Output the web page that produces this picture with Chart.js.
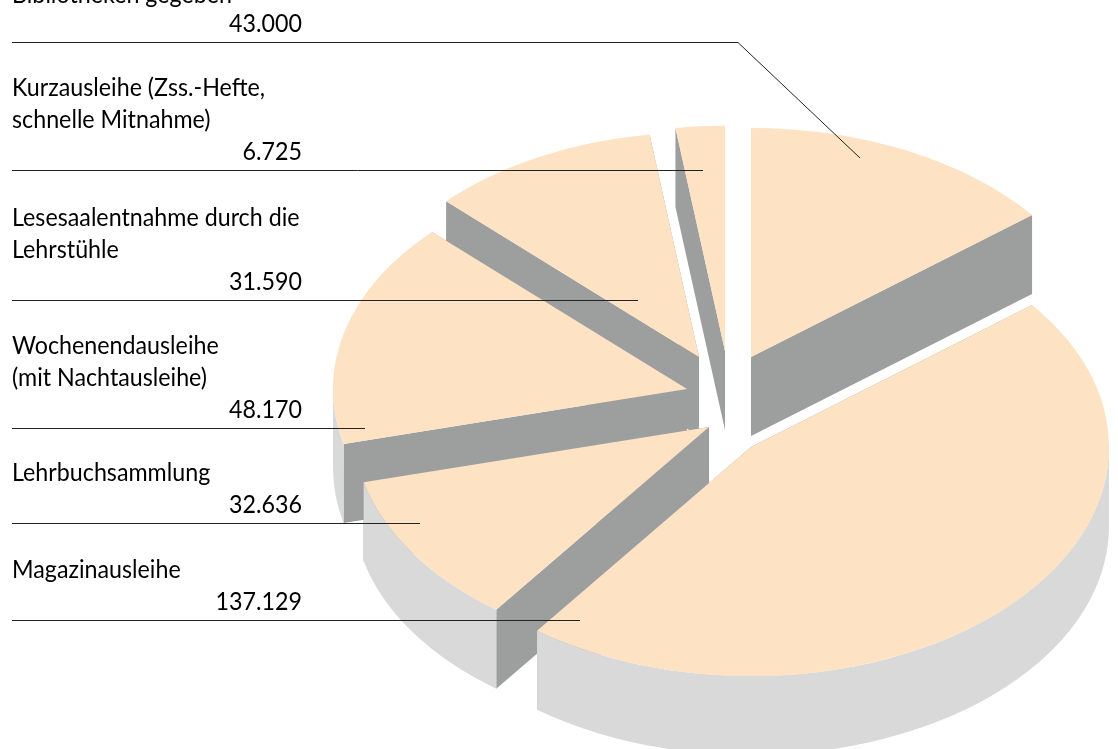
<!DOCTYPE html>
<html>
<head>
<meta charset="utf-8">
<style>
  html, body { margin: 0; background: #fff; overflow: hidden; }
  canvas { display: block; }
</style>
<script src="https://cdn.jsdelivr.net/npm/chart.js@4"></script>
</head>
<body>
<canvas id="pie" width="1118" height="749"></canvas>
<script>
// slices clockwise from 12 o'clock
const categories = ['Bibliotheken gegeben', 'Magazinausleihe', 'Lehrbuchsammlung', 'Wochenendausleihe (mit Nachtausleihe)', 'Lesesaalentnahme durch die Lehrstühle', 'Kurzausleihe (Zss.-Hefte, schnelle Mitnahme)'];
const values = [43000, 137129, 32636, 48170, 31590, 6725];
const labelLines = [
    ['Bibliotheken gegeben'],
    ['Magazinausleihe'],
    ['Lehrbuchsammlung'],
    ['Wochenendausleihe', '(mit Nachtausleihe)'],
    ['Lesesaalentnahme durch die', 'Lehrstühle'],
    ['Kurzausleihe (Zss.-Hefte,', 'schnelle Mitnahme)']
];

// Look of the fake 3D
const colors = { top: '#fde2c3', wall: '#9d9f9e', rim: '#d9d9d9', text: '#000', line: '#222' };
const squash = 0.64;
const depth = 79;
const pieRadius = 356;
const centerX = 725;
const centerY = 395;
// per slice explosion in screen px, away from the center
const explodeX = [26, 26, -16, -38, -26, 0];
const explodeY = [-38, 52, 32, -6, -38, -44];
const sliceRadius = [358, 358, 356, 354, 351, 352];
const backToFront = [5, 0, 4, 3, 2, 1];
// label block per slice: y of the leader line, x where it ends
const leaderY = [42, 620, 523, 428, 300, 170];
const leaderEnd = [738, 580, 420, 365, 638, 703];
const lineHeight = 32;
const textSqueeze = 0.93;

function drawDepth(ctx, arc) {
    const d = depth / squash;
    const r = arc.outerRadius;
    // cut faces
    ctx.fillStyle = colors.wall;
    [arc.startAngle, arc.endAngle].forEach(a => {
        const ox = arc.x + Math.cos(a) * r;
        const oy = arc.y + Math.sin(a) * r;
        ctx.beginPath();
        ctx.moveTo(arc.x, arc.y);
        ctx.lineTo(ox, oy);
        ctx.lineTo(ox, oy + d);
        ctx.lineTo(arc.x, arc.y + d);
        ctx.closePath();
        ctx.fill();
    });
    // outer rim, only the part of the arc that faces us (0..PI on canvas)
    const from = Math.max(arc.startAngle, 0);
    const to = Math.min(arc.endAngle, Math.PI);
    if (to <= from) return;
    ctx.fillStyle = colors.rim;
    ctx.beginPath();
    ctx.arc(arc.x, arc.y, r, from, to);
    ctx.arc(arc.x, arc.y + d, r, to, from, true);
    ctx.closePath();
    ctx.fill();
}

function squeezedText(ctx, txt, x, y) {
    ctx.fillText(txt, x, y, ctx.measureText(txt).width * textSqueeze);
}

const pie3d = {
    id: 'pie3d',
    afterDatasetsUpdate(chart) {
        chart.getDatasetMeta(0).data.forEach((arc, i) => {
            arc.x = centerX + explodeX[i];
            arc.y = centerY + explodeY[i] / squash;
            arc.outerRadius = sliceRadius[i];
        });
    },
    beforeDatasetsDraw(chart) {
        const ctx = chart.ctx;
        const arcs = chart.getDatasetMeta(0).data;
        ctx.save();
        ctx.translate(0, centerY);
        ctx.scale(1, squash);
        ctx.translate(0, -centerY);
        backToFront.forEach(i => {
            drawDepth(ctx, arcs[i]);
            arcs[i].draw(ctx);
        });
        ctx.restore();
        return false;
    },
    afterDraw(chart) {
        const ctx = chart.ctx;
        ctx.save();
        ctx.font = '25px Lato';
        ctx.fillStyle = colors.text;
        ctx.strokeStyle = colors.line;
        ctx.lineWidth = 1;
        values.forEach((v, i) => {
            const y = leaderY[i];
            ctx.beginPath();
            ctx.moveTo(12, y + 0.5);
            ctx.lineTo(leaderEnd[i], y + 0.5);
            if (i === 0) ctx.lineTo(860, 158);
            ctx.stroke();

            ctx.textAlign = 'right';
            squeezedText(ctx, v.toLocaleString('de-DE'), 302, y - 10);
            ctx.textAlign = 'left';
            const lines = labelLines[i];
            // the top label runs off the page, only its lower edge shows
            const nudge = i === 0 ? 3 : 0;
            lines.forEach((txt, k) => {
                squeezedText(ctx, txt, 12, y - 10 + nudge - lineHeight * (lines.length - k));
            });
        });
        ctx.restore();
    }
};

new Chart(document.getElementById('pie'), {
    type: 'pie',
    data: {
        labels: categories,
        datasets: [{
            data: values,
            backgroundColor: colors.top,
            borderWidth: 0,
            radius: pieRadius,
            clip: false
        }]
    },
    options: {
        responsive: false,
        animation: false,
        layout: { padding: { left: 2 * (centerX - 559) } },
        plugins: { legend: { display: false }, tooltip: { enabled: false } }
    },
    plugins: [pie3d]
});
</script>
</body>
</html>
